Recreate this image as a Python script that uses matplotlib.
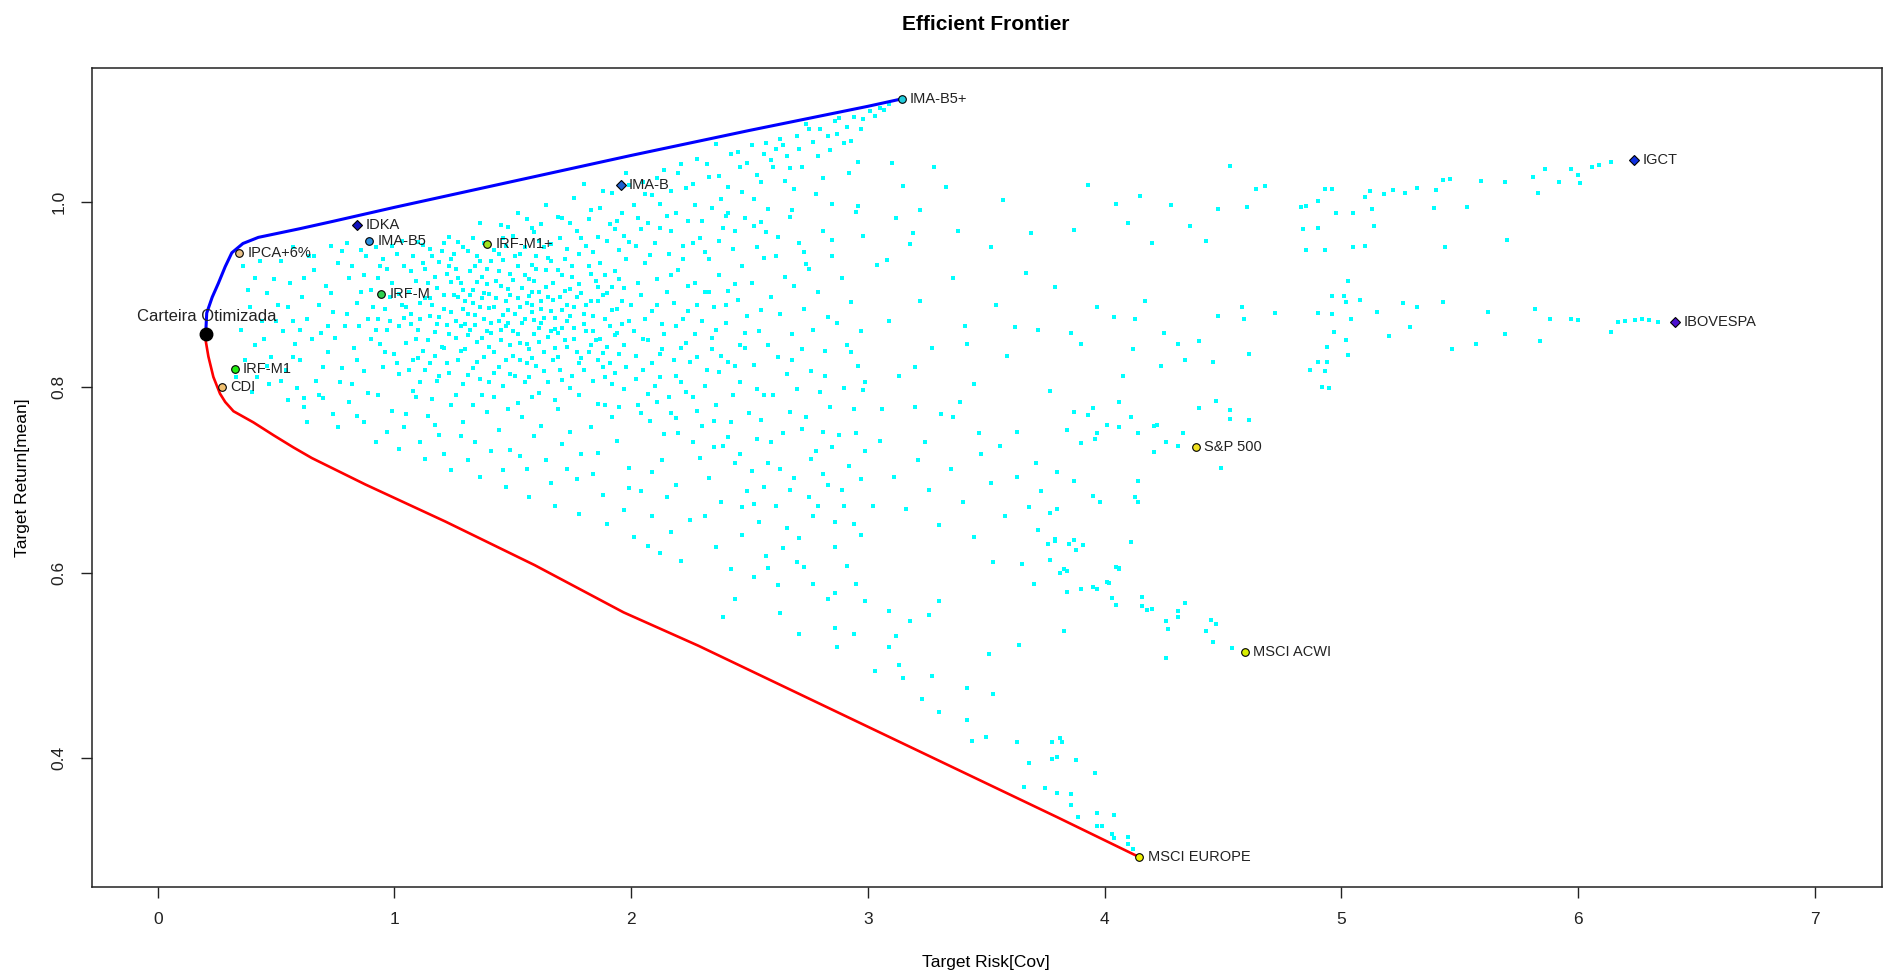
import matplotlib
matplotlib.use('Agg')
import matplotlib.pyplot as plt
import numpy as np

plt.rcParams['font.family'] = ['Liberation Sans', 'DejaVu Sans']

# single assets (risk, mean)
asset_names = ['IMA-B5+', 'IGCT', 'IMA-B', 'IDKA', 'IMA-B5', 'IRF-M1+', 'IPCA+6%', 'IRF-M',
               'IBOVESPA', 'IRF-M1', 'CDI', 'S&P 500', 'MSCI ACWI', 'MSCI EUROPE']
asset_risk = [3.143, 6.237, 1.956, 0.841, 0.894, 1.392, 0.345, 0.945,
              6.41, 0.325, 0.272, 4.386, 4.594, 4.147]
asset_ret = [1.111, 1.045, 1.018, 0.975, 0.958, 0.954, 0.945, 0.901,
             0.870, 0.820, 0.800, 0.735, 0.514, 0.293]
asset_colors = ['#22CCDD', '#1030E0', '#1E60D0', '#1010C0', '#2A8FE0', '#A0E020', '#E8C088', '#30D050',
                '#4B10D0', '#22EE11', '#F0C070', '#F0E020', '#D8EE00', '#F2F200']
asset_markers = ['o', 'D', 'D', 'D', 'o', 'o', 'o', 'o', 'D', 'o', 'o', 'o', 'o', 'o']

# optimized portfolio
opt_risk = 0.205
opt_ret = 0.857

# efficient (upper) and inefficient (lower) frontier
upper_x = [0.203, 0.207, 0.230, 0.256, 0.285, 0.313, 0.36, 0.425, 0.601, 0.742, 1.0, 1.5, 2.0, 2.5, 3.0, 3.143]
upper_y = [0.860, 0.880, 0.897, 0.912, 0.930, 0.945, 0.955, 0.9616, 0.971, 0.979, 0.994, 1.022, 1.050, 1.077, 1.103, 1.111]
lower_x = [0.203, 0.200, 0.214, 0.235, 0.263, 0.285, 0.320, 0.404, 0.490, 0.573, 0.651, 0.877, 1.215, 1.592, 1.968, 2.284, 3.046, 3.80, 4.13, 4.147]
lower_y = [0.857, 0.854, 0.833, 0.811, 0.793, 0.784, 0.774, 0.762, 0.748, 0.735, 0.7235, 0.695, 0.655, 0.608, 0.557, 0.521, 0.428, 0.336, 0.295, 0.293]

# random portfolios (only a sample of the cloud)
cloud_core = [
    (0.88,0.942),(0.92,0.951),(0.95,0.938),(0.87,0.921),(0.90,0.905),(0.93,0.918),(0.97,0.927),(1.01,0.944),(1.04,0.931),(0.99,0.912),
    (1.06,0.903),(1.03,0.889),(0.96,0.884),(0.89,0.873),(0.92,0.862),(0.98,0.871),(1.02,0.866),(1.07,0.879),(1.11,0.891),(1.09,0.915),
    (1.13,0.928),(1.16,0.941),(1.12,0.953),(1.19,0.935),(1.22,0.922),(1.18,0.907),(1.15,0.896),(1.21,0.884),(1.25,0.899),(1.28,0.912),
    (1.24,0.938),(1.31,0.947),(1.27,0.957),(1.34,0.931),(1.37,0.919),(1.33,0.905),(1.30,0.893),(1.36,0.887),(1.40,0.901),(1.43,0.914),
    (1.39,0.928),(1.46,0.937),(1.49,0.922),(1.45,0.909),(1.52,0.896),(1.48,0.883),(1.55,0.874),(1.58,0.889),(1.61,0.903),(1.57,0.917),
    (1.64,0.926),(1.60,0.941),(1.67,0.912),(1.70,0.897),(1.66,0.882),(1.73,0.871),(1.69,0.858),(1.76,0.886),(1.79,0.902),(1.75,0.919),
    (1.82,0.931),(1.78,0.944),(1.85,0.915),(1.88,0.899),(1.84,0.877),(1.91,0.866),(1.87,0.852),(1.94,0.884),(1.97,0.907),(1.93,0.925),
    (1.10,0.862),(1.14,0.851),(1.18,0.868),(1.23,0.857),(1.26,0.871),(1.32,0.862),(1.35,0.849),(1.41,0.858),(1.44,0.871),(1.50,0.861),
    (1.53,0.848),(1.59,0.857),(1.62,0.869),(1.68,0.842),(1.72,0.851),(1.77,0.838),(1.81,0.861),(1.86,0.829),(1.90,0.843),(1.95,0.836),
    (1.05,0.848),(1.00,0.836),(0.94,0.847),(1.08,0.829),(1.13,0.818),(1.17,0.834),(1.22,0.826),(1.28,0.839),(1.33,0.821),(1.38,0.833),
    (1.42,0.815),(1.47,0.829),(1.51,0.812),(1.56,0.826),(1.63,0.817),(1.67,0.829),(1.71,0.808),(1.80,0.819),(1.89,0.811),(1.98,0.822),
    (0.95,0.822),(1.02,0.814),(1.11,0.806),(1.19,0.812),(1.29,0.803),(1.36,0.809),(1.46,0.801),(1.55,0.806),(1.74,0.799),(1.92,0.803),
    (1.20,0.947),(1.26,0.928),(1.35,0.941),(1.41,0.936),(1.47,0.952),(1.53,0.944),(1.58,0.932),(1.63,0.951),(1.72,0.938),(1.81,0.952),
    (1.29,0.884),(1.38,0.874),(1.47,0.893),(1.54,0.907),(1.62,0.884),(1.71,0.921),(1.80,0.879),(1.89,0.921),(1.96,0.893),(1.15,0.877),
    (1.24,0.913),(1.32,0.925),(1.42,0.887),(1.51,0.879),(1.59,0.872),(1.65,0.897),(1.74,0.906),(1.83,0.893),(1.92,0.908),(1.99,0.871),
    (1.07,0.925),(1.17,0.919),(1.27,0.897),(1.37,0.896),(1.44,0.944),(1.56,0.891),(1.66,0.936),(1.76,0.864),(1.86,0.908),(1.95,0.948),
    (0.98,0.897),(1.04,0.875),(1.12,0.839),(1.21,0.842),(1.31,0.856),(1.40,0.843),(1.49,0.846),(1.57,0.841),(1.65,0.854),(1.83,0.846),
    (1.10,0.957),(1.23,0.962),(1.38,0.955),(1.50,0.963),(1.61,0.958),(1.70,0.961),(1.77,0.968),(1.86,0.962),(1.93,0.971),(1.99,0.957),
    (1.34,0.878),(1.39,0.911),(1.45,0.862),(1.52,0.931),(1.58,0.903),(1.68,0.875),(1.73,0.889),(1.30,0.868),(1.48,0.906),(1.61,0.864),
]
cloud_core2 = [
    (0.86,0.903),(0.91,0.887),(0.94,0.931),(0.99,0.952),(1.03,0.958),(1.08,0.942),(1.12,0.934),(1.14,0.912),(1.16,0.889),(1.19,0.876),
    (1.21,0.899),(1.23,0.931),(1.25,0.944),(1.27,0.918),(1.29,0.905),(1.31,0.879),(1.33,0.891),(1.35,0.913),(1.36,0.936),(1.38,0.902),
    (1.40,0.885),(1.41,0.869),(1.43,0.896),(1.44,0.925),(1.46,0.878),(1.47,0.866),(1.49,0.899),(1.50,0.916),(1.51,0.941),(1.53,0.887),
    (1.54,0.869),(1.55,0.921),(1.57,0.898),(1.58,0.881),(1.59,0.914),(1.60,0.927),(1.62,0.893),(1.63,0.875),(1.64,0.908),(1.65,0.939),
    (1.67,0.894),(1.68,0.863),(1.69,0.926),(1.71,0.883),(1.72,0.904),(1.74,0.877),(1.75,0.931),(1.77,0.897),(1.78,0.911),(1.80,0.868),
    (1.81,0.889),(1.83,0.922),(1.84,0.861),(1.86,0.893),(1.87,0.934),(1.89,0.874),(1.90,0.902),(1.92,0.883),(1.93,0.856),(1.95,0.917),
    (1.96,0.868),(1.98,0.938),(2.00,0.889),(2.01,0.861),(2.03,0.912),(2.06,0.874),(2.08,0.943),(2.11,0.889),(2.14,0.857),(2.17,0.921),
    (2.19,0.866),(2.22,0.938),(2.24,0.882),(2.27,0.912),(2.30,0.871),(2.33,0.903),(2.36,0.862),(2.40,0.889),(2.44,0.911),(2.48,0.858),
    (1.02,0.901),(1.05,0.887),(1.07,0.868),(1.09,0.852),(1.11,0.874),(1.13,0.896),(1.17,0.859),(1.20,0.843),(1.22,0.867),(1.24,0.881),
    (1.26,0.853),(1.28,0.866),(1.30,0.841),(1.32,0.899),(1.34,0.867),(1.37,0.853),(1.39,0.861),(1.42,0.838),(1.45,0.851),(1.48,0.869),
    (1.50,0.834),(1.52,0.857),(1.56,0.847),(1.58,0.831),(1.61,0.849),(1.63,0.838),(1.66,0.861),(1.69,0.832),(1.71,0.864),(1.73,0.843),
    (1.76,0.852),(1.78,0.826),(1.82,0.838),(1.85,0.851),(1.88,0.837),(1.91,0.826),(1.94,0.858),(1.97,0.846),(2.02,0.834),(2.05,0.852),
    (2.09,0.826),(2.13,0.841),(2.18,0.829),(2.23,0.848),(2.28,0.832),(2.34,0.841),(2.41,0.827),(2.46,0.846),(0.97,0.862),(0.93,0.873),
    (0.90,0.852),(0.96,0.838),(1.01,0.826),(1.06,0.819),(1.10,0.831),(1.15,0.826),(1.18,0.807),(1.23,0.815),(1.27,0.829),(1.31,0.813),
    (1.35,0.827),(1.40,0.806),(1.44,0.822),(1.49,0.814),(1.53,0.829),(1.57,0.811),(1.60,0.823),(1.65,0.806),(1.70,0.819),(1.75,0.812),
    (1.79,0.831),(1.84,0.807),(1.88,0.822),(1.93,0.815),(1.97,0.798),(2.02,0.809),(2.07,0.793),(2.12,0.811),(2.16,0.789),(2.21,0.806),
    (2.26,0.789),(2.31,0.801),(2.37,0.816),(2.43,0.792),(1.08,0.796),(1.16,0.787),(1.26,0.792),(1.33,0.781),(1.42,0.789),(1.52,0.783),
    (1.61,0.794),(1.68,0.786),(1.78,0.791),(1.86,0.782),(1.95,0.779),(2.04,0.772),(2.11,0.784),(2.19,0.767),(2.28,0.774),(2.35,0.763),
    (1.15,0.949),(1.21,0.956),(1.29,0.951),(1.33,0.961),(1.42,0.948),(1.46,0.961),(1.55,0.951),(1.59,0.967),(1.66,0.954),(1.73,0.949),
    (1.79,0.961),(1.84,0.946),(1.90,0.958),(1.97,0.963),(2.04,0.971),(2.10,0.956),(2.17,0.968),(2.22,0.952),(2.31,0.946),(2.37,0.958),
    (1.36,0.977),(1.48,0.973),(1.56,0.981),(1.62,0.976),(1.69,0.984),(1.74,0.977),(1.82,0.981),(1.87,0.993),(1.91,0.976),(1.96,0.988),
    (2.03,0.983),(2.07,0.977),(2.15,0.985),(2.24,0.979),(2.27,0.996),(2.41,0.988),(2.44,0.969),(2.52,0.974),(2.56,0.939),(2.62,0.962),
]
cloud_upper = [
    (1.45,0.975),(1.52,0.988),(1.58,0.972),(1.64,0.996),(1.71,0.983),(1.76,1.004),(1.83,0.991),(1.88,1.012),(1.94,0.979),(2.01,0.996),
    (2.05,1.021),(2.09,1.007),(2.14,1.034),(2.19,0.988),(2.23,1.015),(2.28,1.046),(2.33,1.027),(2.38,1.003),(2.42,1.052),(2.46,1.038),
    (2.51,1.061),(2.55,1.021),(2.59,1.045),(2.63,1.068),(2.67,1.036),(2.71,1.057),(2.75,1.079),(2.79,1.049),(2.83,1.071),(2.86,1.087),
    (2.90,1.063),(2.94,1.092),(2.97,1.078),(3.01,1.098),(3.05,1.101),(3.09,1.106),(2.88,1.090),(2.74,1.084),(2.61,1.057),(2.47,1.011),
    (2.36,1.062),(2.21,1.041),(2.12,0.998),(1.98,1.031),(1.80,1.019),(2.58,0.992),(2.69,1.014),(2.81,1.026),(2.96,1.043),(2.30,0.979),
    (2.57,1.063),(3.33,1.016),(2.96,0.995),(2.85,0.959),(2.74,0.933),(3.19,0.966),(3.08,0.937),
    (1.92,1.009),(1.99,1.018),(2.06,1.008),(2.11,1.026),(2.17,1.012),(2.20,1.031),(2.26,1.019),(2.32,1.041),(2.37,1.028),(2.41,1.016),
    (2.45,1.054),(2.49,1.042),(2.53,1.029),(2.56,1.052),(2.60,1.037),(2.64,1.061),(2.66,1.049),(2.70,1.071),(2.72,1.038),(2.77,1.064),
    (2.80,1.078),(2.84,1.056),(2.87,1.073),(2.91,1.081),(2.93,1.066),(2.98,1.089),(3.03,1.093),(3.07,1.099),(2.52,1.003),(2.65,1.022),
    (2.78,1.008),(2.92,1.031),(2.40,0.985),(2.55,0.978),(2.68,0.991),(2.85,0.998),(3.10,1.042),(3.15,1.017),(3.22,0.991),(3.28,1.038),
]
cloud_mid = [
    (2.02,0.952),(2.06,0.934),(2.11,0.917),(2.04,0.899),(2.09,0.882),(2.13,0.868),(2.07,0.851),(2.12,0.836),(2.05,0.818),(2.10,0.801),
    (2.16,0.944),(2.20,0.926),(2.24,0.909),(2.18,0.891),(2.22,0.874),(2.27,0.857),(2.21,0.842),(2.25,0.827),(2.19,0.812),(2.23,0.795),
    (2.29,0.961),(2.33,0.938),(2.37,0.921),(2.31,0.903),(2.35,0.886),(2.40,0.869),(2.34,0.853),(2.38,0.834),(2.32,0.818),(2.36,0.781),
    (2.43,0.949),(2.47,0.931),(2.51,0.912),(2.45,0.894),(2.49,0.877),(2.54,0.861),(2.48,0.842),(2.52,0.824),(2.46,0.806),(2.50,0.772),
    (2.57,0.967),(2.61,0.942),(2.65,0.919),(2.59,0.897),(2.63,0.879),(2.68,0.857),(2.62,0.833),(2.66,0.814),(2.60,0.792),(2.64,0.751),
    (2.71,0.955),(2.75,0.927),(2.79,0.903),(2.73,0.884),(2.77,0.862),(2.82,0.839),(2.76,0.817),(2.80,0.795),(2.74,0.768),(2.78,0.731),
    (2.85,0.941),(2.89,0.918),(2.93,0.892),(2.87,0.869),(2.91,0.846),(2.96,0.823),(2.90,0.799),(2.94,0.776),(2.88,0.748),(2.92,0.715),
    (2.98,0.963),(2.03,0.781),(2.08,0.763),(2.14,0.749),(2.17,0.772),(2.26,0.741),(2.30,0.758),(2.39,0.737),(2.42,0.762),(2.53,0.744),
    (2.56,0.791),(2.67,0.773),(2.70,0.798),(2.81,0.752),(2.84,0.779),(2.95,0.751),(2.99,0.806),(2.58,0.718),(2.69,0.702),(2.83,0.694),
    (2.15,0.903),(2.28,0.889),(2.41,0.904),(2.55,0.883),(2.69,0.909),(2.83,0.876),(2.97,0.861),(2.44,0.823),(2.58,0.846),(2.72,0.841),
    (2.26,0.956),(2.39,0.972),(2.53,0.951),(2.67,0.984),(2.81,0.969),(2.95,0.989),(2.12,0.972),(2.34,0.993),(2.48,0.983),(2.73,0.946),
    (2.44,0.718),(2.33,0.702),(2.49,0.688),(2.61,0.672),(2.77,0.661),(2.90,0.672),(2.38,0.676),(2.54,0.654),(2.71,0.637),(2.86,0.628),
    (2.41,0.746),(2.46,0.728),(2.51,0.709),(2.55,0.765),(2.59,0.741),(2.63,0.712),(2.67,0.689),(2.72,0.755),(2.76,0.722),(2.81,0.706),
    (2.85,0.735),(2.89,0.689),(2.94,0.652),(2.99,0.731),(2.47,0.671),(2.56,0.692),(2.64,0.626),(2.75,0.682),(2.86,0.655),(2.97,0.701),
    (2.35,0.735),(2.53,0.798),(2.68,0.829),(2.82,0.812),(2.93,0.838),
]
cloud_left = [
    (0.36,0.931),(0.41,0.918),(0.46,0.902),(0.39,0.887),(0.44,0.871),(0.51,0.889),(0.56,0.912),(0.61,0.897),(0.66,0.926),(0.71,0.909),
    (0.76,0.934),(0.81,0.918),(0.53,0.861),(0.58,0.847),(0.63,0.873),(0.69,0.858),(0.74,0.881),(0.79,0.866),(0.84,0.891),(0.48,0.833),
    (0.54,0.818),(0.60,0.829),(0.67,0.807),(0.72,0.838),(0.78,0.821),(0.83,0.842),(0.37,0.829),(0.42,0.811),(0.33,0.811),(0.40,0.795),
    (0.47,0.803),(0.59,0.799),(0.70,0.788),(0.82,0.803),(0.86,0.948),(0.64,0.941),(0.52,0.936),(0.57,0.951),(0.73,0.952),(0.80,0.955),
    (0.38,0.905),(0.43,0.936),(0.45,0.852),(0.49,0.917),(0.50,0.871),(0.55,0.886),(0.57,0.833),(0.62,0.918),(0.65,0.852),(0.68,0.889),
    (0.70,0.822),(0.73,0.902),(0.75,0.853),(0.77,0.806),(0.80,0.879),(0.82,0.931),(0.85,0.866),(0.87,0.817),(0.62,0.788),(0.66,0.941),
    (0.35,0.862),(0.41,0.846),(0.46,0.823),(0.52,0.807),(0.57,0.871),(0.78,0.947),(0.84,0.829),(0.89,0.794),(0.72,0.866),(0.60,0.862),
]
cloud_lowleft = [
    (0.55,0.786),(0.62,0.779),(0.68,0.792),(0.74,0.771),(0.81,0.784),(0.87,0.762),(0.93,0.791),(0.99,0.774),(1.04,0.757),(1.09,0.789),
    (1.14,0.769),(1.19,0.748),(1.24,0.781),(1.29,0.762),(1.34,0.741),(1.39,0.773),(1.44,0.754),(1.49,0.732),(1.54,0.768),(1.59,0.747),
    (1.64,0.721),(1.69,0.776),(1.74,0.752),(1.79,0.728),(1.84,0.706),(1.89,0.781),(1.94,0.742),(1.99,0.713),(2.04,0.688),(2.09,0.661),
    (2.13,0.721),(2.17,0.644),(1.97,0.667),(1.88,0.684),(1.77,0.701),(1.66,0.697),(1.56,0.712),(1.46,0.711),(1.31,0.721),(1.21,0.728),
    (1.11,0.741),(0.97,0.752),(0.84,0.769),(1.71,0.739),(1.83,0.757),(1.58,0.789),(1.37,0.792),(2.21,0.612),(2.07,0.629),(2.15,0.681),
    (0.63,0.762),(0.76,0.757),(0.92,0.741),(1.02,0.733),(1.13,0.722),(1.24,0.711),(1.36,0.703),(1.47,0.692),(1.57,0.681),(1.68,0.672),
    (1.78,0.663),(1.90,0.652),(2.01,0.638),(2.12,0.621),(1.05,0.771),(1.17,0.759),(1.28,0.747),(1.41,0.731),(1.53,0.726),(1.62,0.758),
    (1.73,0.712),(1.86,0.729),(1.99,0.691),(2.09,0.708),(2.19,0.694),(2.25,0.657),(2.29,0.724),(2.20,0.751),(1.48,0.776),(1.92,0.768),
]
cloud_right = [
    (3.04,0.932),(3.09,0.871),(3.13,0.812),(3.18,0.954),(3.22,0.893),(3.27,0.842),(3.31,0.771),(3.36,0.918),(3.41,0.866),(3.45,0.803),
    (3.54,0.889),(3.59,0.834),(3.63,0.752),(3.72,0.862),(3.77,0.796),(3.90,0.847),(3.95,0.778),(4.04,0.876),(4.08,0.812),(4.17,0.893),
    (4.22,0.759),(4.31,0.847),(3.12,0.983),(3.57,1.002),(3.24,0.741),(3.48,0.728),(3.71,0.718),(3.06,0.776),(3.39,0.784),(4.11,0.768),
    (4.53,1.039),(4.64,1.014),(4.68,1.017),(4.93,1.014),(4.83,0.994),(4.60,0.994),(4.48,0.992),(4.98,0.988),(4.84,0.971),(4.85,0.948),
    (5.05,0.951),(4.96,0.898),(5.02,0.892),(4.90,0.880),(5.04,0.873),(4.72,0.880),(4.58,0.887),(4.59,0.873),(4.48,0.877),(4.40,0.850),
    (4.61,0.836),(4.87,0.819),(4.95,0.799),(4.90,0.827),(4.24,0.823),(4.46,0.827),(4.12,0.841),(4.40,0.778),(4.53,0.766),(3.93,1.018),
    (4.15,1.006),(4.05,0.998),(4.28,0.996),(3.69,0.966),(3.87,0.970),(4.10,0.977),(4.20,0.956),(4.36,0.974),(4.43,0.958),(3.38,0.969),
    (3.52,0.951),(3.67,0.923),(3.79,0.908),(3.97,0.887),(4.13,0.873),(4.25,0.858),(4.34,0.829),(3.86,0.858),(3.62,0.865),(3.42,0.847),
    (3.20,0.822),(2.98,0.797),
]
cloud_igct = [
    (4.85,0.995),(4.90,0.972),(4.93,0.948),(4.90,1.001),(4.96,1.014),(5.05,0.988),(5.10,1.005),(5.10,0.952),(5.12,1.012),(5.13,0.992),
    (5.14,0.974),(5.18,1.008),(5.22,1.013),(5.27,1.009),(5.32,1.015),(5.39,0.993),(5.40,1.013),(5.43,1.024),(5.44,0.951),(5.46,1.025),
    (5.53,0.994),(5.59,1.022),(5.69,1.021),(5.70,0.959),(5.81,1.027),(5.83,1.010),(5.86,1.035),(5.92,1.021),(5.97,1.035),(6.00,1.029),
    (6.01,1.020),(6.06,1.038),(6.09,1.040),(6.14,1.043),
]
cloud_ibov = [
    (5.03,0.914),(5.01,0.898),(4.96,0.879),(5.08,0.894),(5.15,0.881),(5.26,0.891),(5.43,0.892),(5.62,0.881),(5.82,0.884),(5.97,0.874),
    (6.17,0.870),(6.30,0.872),(6.34,0.870),(6.14,0.860),(5.84,0.850),(5.57,0.847),(5.47,0.841),(5.20,0.855),(5.02,0.851),(4.94,0.843),
    (4.94,0.827),(4.93,0.817),(4.92,0.800),(4.95,0.799),(5.03,0.835),(4.97,0.860),(5.32,0.887),(5.29,0.865),(5.69,0.857),(5.88,0.874),
    (6.00,0.872),(6.24,0.872),(6.27,0.873),(6.20,0.871),
]
cloud_down = [
    (4.14,0.699),(4.13,0.681),(4.14,0.676),(4.11,0.633),(4.06,0.604),(4.02,0.589),(4.03,0.573),(4.05,0.565),(4.16,0.574),(4.16,0.564),
    (4.18,0.560),(4.20,0.561),(4.31,0.558),(4.31,0.552),(4.34,0.567),(4.26,0.548),(4.27,0.539),(4.26,0.508),(4.45,0.549),(4.47,0.544),
    (4.43,0.537),(4.46,0.525),(4.54,0.519),(3.83,0.537),(3.84,0.579),(3.90,0.582),(3.97,0.582),(3.81,0.599),(3.84,0.602),(4.06,0.605),
    (3.77,0.614),(3.79,0.636),(3.87,0.635),(3.91,0.630),(3.77,0.664),(3.80,0.668),(3.95,0.683),(3.98,0.676),(3.80,0.708),(3.87,0.699),
    (4.21,0.730),(4.26,0.741),(4.31,0.737),(4.33,0.751),(4.49,0.713),(4.47,0.785),(4.53,0.775),(4.61,0.765),(4.21,0.758),(4.14,0.750),
    (4.06,0.757),(4.01,0.759),(3.97,0.750),(3.93,0.770),(3.87,0.773),(3.84,0.754),(3.90,0.740),(3.96,0.744),(4.06,0.784),
    (3.78,0.417),(3.81,0.421),(3.78,0.399),(3.80,0.401),(3.96,0.384),(3.80,0.362),(3.86,0.349),(3.89,0.336),(3.97,0.341),(4.04,0.338),
    (3.97,0.327),(3.99,0.327),(4.03,0.318),(4.04,0.314),(4.10,0.315),(4.10,0.307),(4.12,0.302),
    (3.76,0.631),(3.85,0.631),(3.83,0.604),(3.70,0.588),(3.53,0.611),(3.65,0.609),(3.72,0.646),(3.79,0.634),(3.88,0.624),(3.95,0.584),
    (4.01,0.590),(4.05,0.606),(2.52,0.595),(2.58,0.605),(2.70,0.611),(2.77,0.588),(2.86,0.578),(2.63,0.556),(2.71,0.534),(2.86,0.540),
    (2.94,0.534),(2.87,0.520),(3.03,0.494),(3.09,0.520),(3.12,0.531),(3.18,0.548),(3.26,0.554),(3.30,0.569),(3.09,0.559),(2.99,0.569),
    (3.13,0.500),(3.15,0.486),(3.23,0.463),(3.27,0.488),(3.30,0.449),(3.42,0.441),(3.44,0.418),(3.50,0.422),(3.53,0.469),(3.42,0.475),
    (3.51,0.512),(3.64,0.522),(3.63,0.417),(3.68,0.395),(3.82,0.417),(3.75,0.367),(3.66,0.369),(3.86,0.361),(3.88,0.398),
    (3.05,0.742),(3.11,0.703),(3.16,0.668),(3.21,0.721),(3.26,0.689),(3.30,0.651),(3.35,0.712),(3.40,0.676),(3.45,0.638),(3.52,0.697),
    (3.58,0.661),(3.63,0.703),(3.68,0.671),(3.73,0.688),(3.47,0.751),(3.36,0.768),(3.20,0.779),(3.56,0.737),(3.02,0.672),(2.97,0.641),
    (2.31,0.661),(2.36,0.628),(2.42,0.604),(2.47,0.641),(2.52,0.674),(2.57,0.618),(2.62,0.587),(2.66,0.648),(2.73,0.606),(2.79,0.672),
    (2.83,0.571),(2.91,0.607),(2.95,0.588),(2.44,0.571),(2.39,0.552),
]

cloud = np.array(cloud_core + cloud_core2 + cloud_upper + cloud_mid + cloud_left + cloud_lowleft
                 + cloud_right + cloud_igct + cloud_ibov + cloud_down)

fig = plt.figure(figsize=(18.85, 9.76), dpi=100)
ax = fig.add_axes([0.04865, 0.0915, 0.9498, 0.8385])

ax.scatter(cloud[:, 0], cloud[:, 1], s=6, marker='s', c='#00FFFF', linewidths=0, zorder=1)
ax.plot(upper_x, upper_y, color='#0000FF', lw=2.2, zorder=2, solid_capstyle='round')
ax.plot(lower_x, lower_y, color='#FF0000', lw=1.9, zorder=2, solid_capstyle='round')

for name, x, y, c, m in zip(asset_names, asset_risk, asset_ret, asset_colors, asset_markers):
    ax.plot(x, y, marker=m, ms=5.5, mfc=c, mec='black', mew=0.8, ls='none', zorder=4)
    ax.annotate(name, (x, y), xytext=(6, 0), textcoords='offset points',
                ha='left', va='center', fontsize=10.5, color='#222222', zorder=5)

ax.plot(opt_risk, opt_ret, 'o', ms=9, color='black', zorder=4)
ax.annotate('Carteira Otimizada', (opt_risk, opt_ret), xytext=(0, 13), textcoords='offset points',
            ha='center', va='center', fontsize=12, color='#222222', zorder=5)

ax.set_xlim(-0.279, 7.285)
ax.set_ylim(0.261, 1.144)
ax.set_xticks(range(8))
ax.set_xticklabels([str(i) for i in range(8)])
ax.set_yticks([0.4, 0.6, 0.8, 1.0])
ax.set_yticklabels(['0.4', '0.6', '0.8', '1.0'])
ax.tick_params(length=8, width=1, direction='out', labelsize=12.5, pad=10, colors='#222222')
for lab in ax.get_yticklabels():
    lab.set_rotation(90)
    lab.set_va('center')
for sp in ax.spines.values():
    sp.set_linewidth(1.1)
    sp.set_color('#222222')

fig.text(986 / 1885, 1 - 24 / 976, 'Efficient Frontier', ha='center', va='center',
         fontsize=15, fontweight='bold')
fig.text(986 / 1885, 1 - 963 / 976, 'Target Risk[Cov]', ha='center', va='center', fontsize=12.5)
fig.text(22 / 1885, 1 - 477.5 / 976, 'Target Return[mean]', ha='center', va='center',
         rotation=90, fontsize=12.5)

fig.savefig('out.png', dpi=100)
